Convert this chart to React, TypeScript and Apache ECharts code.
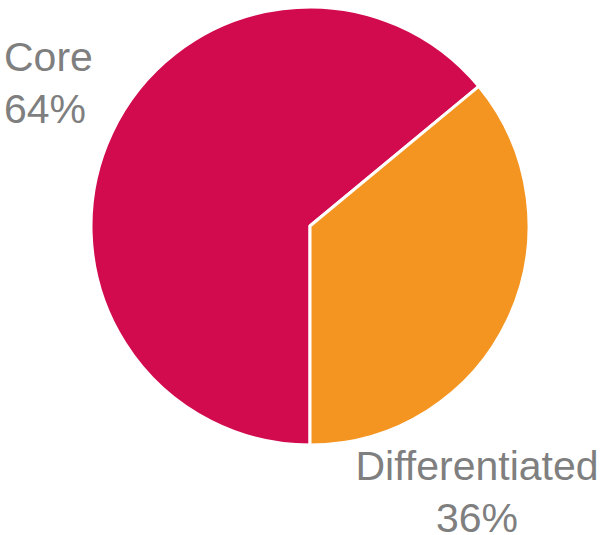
import React, { useEffect, useRef } from "react";
import * as echarts from "echarts";

const categories = ["Core", "Differentiated"];
const values = [64, 36];
const colors = ["#D20B4F", "#F49521"];

export default function App() {
  const ref = useRef<HTMLDivElement>(null);
  useEffect(() => {
    if (!ref.current) return;
    const chart = echarts.init(ref.current, null, { renderer: "svg" });
    const font = {
      fill: "#7F7F7F",
      fontFamily: "Liberation Sans, Arial, sans-serif",
      fontSize: 41,
      lineHeight: 52,
    };
    chart.setOption({
      animation: false,
      graphic: [
        {
          type: "text",
          x: 4,
          y: 31,
          style: {
            ...font,
            text: `${categories[0]}\n${values[0]}%`,
            align: "left",
            verticalAlign: "top",
          },
        },
        {
          type: "text",
          x: 477,
          y: 440,
          style: {
            ...font,
            text: `${categories[1]}\n${values[1]}%`,
            align: "center",
            verticalAlign: "top",
          },
        },
      ],
      series: [
        {
          type: "pie",
          center: [310, 226],
          radius: 219,
          startAngle: 270,
          clockwise: true,
          data: categories.map((c, i) => ({
            name: c,
            value: values[i],
            itemStyle: { color: colors[i] },
          })),
          itemStyle: { borderColor: "#ffffff", borderWidth: 3 },
          label: { show: false },
          labelLine: { show: false },
          emphasis: { disabled: true },
        },
      ],
    });
    return () => chart.dispose();
  }, []);
  return (
    <div
      ref={ref}
      style={{ position: "absolute", left: 0, top: 0, width: 607, height: 535 }}
    />
  );
}
